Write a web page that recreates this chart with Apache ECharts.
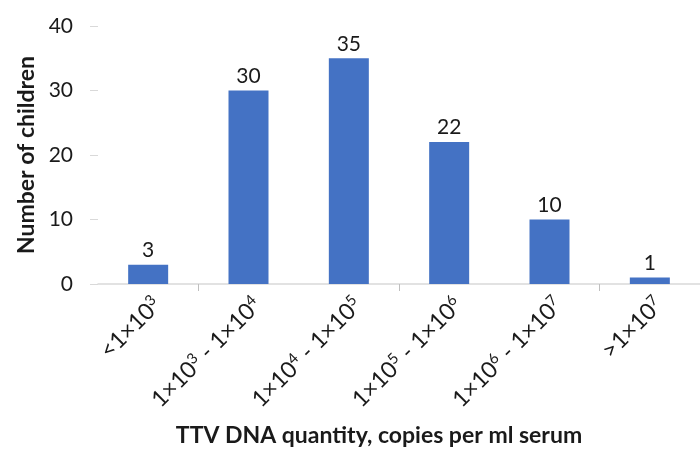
<!DOCTYPE html>
<html>
<head>
<meta charset="utf-8">
<script src="https://cdn.jsdelivr.net/npm/echarts@6/dist/echarts.min.js"></script>
<style>html,body{margin:0;padding:0;background:#fff;}#c{width:700px;height:452px;}</style>
</head>
<body>
<div id="c"></div>
<script>
const categories = ['<1×10^3', '1×10^3 - 1×10^4', '1×10^4 - 1×10^5', '1×10^5 - 1×10^6', '1×10^6 - 1×10^7', '>1×10^7'];
const children = [3, 30, 35, 22, 10, 1];
const yTicks = [0, 10, 20, 30, 40];
const xTitle = 'TTV DNA quantity, copies per ml serum';
const yTitle = 'Number of children';

const FONT = 'Lato';
const chart = echarts.init(document.getElementById('c'));
chart.setOption({
  animation: false,
  backgroundColor: '#fff',
  textStyle: { fontFamily: FONT },
  grid: { left: 98, top: 26, width: 611, height: 259, containLabel: false },
  xAxis: {
    type: 'category',
    data: categories,
    name: xTitle,
    nameLocation: 'middle',
    nameGap: 140,
    nameTextStyle: { fontFamily: FONT, fontWeight: 'bold', fontSize: 23, color: '#1a1a1a', padding: [0, 40, 0, 0] },
    axisLine: { lineStyle: { color: '#d9d9d9', width: 1.5 } },
    axisTick: { show: true, length: 7, lineStyle: { color: '#bfbfbf' }, interval: function (i) { return i % 2 === 1; } },
    axisLabel: {
      rotate: 45,
      margin: 8,
      interval: 0,
      verticalAlign: 'top',
      color: '#1a1a1a',
      fontSize: 23,
      lineHeight: 26,
      fontFamily: FONT,
      formatter: function (v) {
        return v.replace(/\^(\d)/g, '{s|$1}');
      },
      rich: {
        s: { fontSize: 15, lineHeight: 15, verticalAlign: 'top', color: '#1a1a1a', fontFamily: FONT }
      }
    }
  },
  yAxis: {
    type: 'value',
    min: yTicks[0],
    max: yTicks[yTicks.length - 1],
    interval: yTicks[1] - yTicks[0],
    name: yTitle,
    nameLocation: 'middle',
    nameGap: 57,
    nameTextStyle: { fontFamily: FONT, fontWeight: 'bold', fontSize: 23, color: '#1a1a1a' },
    axisLine: { show: false },
    axisTick: { show: true, length: 8, lineStyle: { color: '#d9d9d9' } },
    splitLine: { show: false },
    axisLabel: { margin: 25, color: '#1a1a1a', fontSize: 21, fontFamily: FONT }
  },
  series: [{
    type: 'bar',
    data: children,
    barWidth: 40,
    itemStyle: { color: '#4472C4' },
    label: { show: true, position: 'top', distance: 4, color: '#1a1a1a', fontSize: 21, fontFamily: FONT }
  }]
});
</script>
</body>
</html>
